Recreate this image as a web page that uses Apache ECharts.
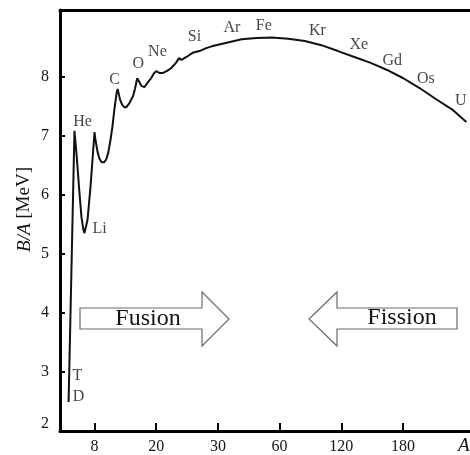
<!DOCTYPE html>
<html>
<head>
<meta charset="utf-8">
<script src="https://cdn.jsdelivr.net/npm/echarts@6/dist/echarts.min.js"></script>
<style>
  html, body { margin: 0; padding: 0; background: #fff; }
  #chart { width: 470px; height: 455px; }
</style>
</head>
<body>
<div id="chart"></div>
<script>
// Binding energy per nucleon vs mass number, on a broken (piecewise) A scale.

// Curve: mass number A and B/A in MeV.
const massA = [2.0, 4.0, 4.4, 5.0, 5.4, 5.8, 6.0, 6.2, 6.6, 7.2, 7.6, 8.0,
  8.2, 8.6, 9.0, 9.4, 9.9, 10.3, 10.7, 11.1, 11.5, 11.9, 12.3, 12.5,
  13.0, 13.4, 13.8, 14.2, 14.8, 15.5, 15.9, 16.3, 16.7, 17.1, 17.7, 18.3,
  19.0, 19.6, 20.0, 20.5, 21.1, 21.7, 22.4, 23.2, 23.7, 24.1, 24.9, 25.9,
  27.0, 28.1, 29.0, 35.3, 41.6, 48.9, 56.1, 68.4, 84.5, 100.6, 116.8,
  132.7, 148.6, 164.5, 180.3, 196.5, 212.6, 228.7, 241.6];
const bindE = [2.49, 7.08, 6.70, 6.03, 5.62, 5.40, 5.35, 5.37, 5.57, 6.13, 6.59, 7.06,
  6.92, 6.72, 6.60, 6.55, 6.55, 6.60, 6.72, 6.92, 7.16, 7.47, 7.72, 7.79,
  7.60, 7.52, 7.48, 7.48, 7.55, 7.67, 7.80, 7.97, 7.91, 7.84, 7.82, 7.89,
  7.97, 8.06, 8.09, 8.06, 8.06, 8.09, 8.14, 8.23, 8.31, 8.28, 8.33, 8.40,
  8.43, 8.48, 8.51, 8.58, 8.63, 8.65, 8.66, 8.64, 8.60, 8.53, 8.43,
  8.33, 8.23, 8.11, 7.97, 7.80, 7.61, 7.43, 7.23];

// Element labels, anchored in data space (A, B/A).
const elemNames = ["He", "Li", "C", "O", "Ne", "Si", "Ar", "Fe", "Kr", "Xe", "Gd", "Os", "U", "T", "D"];
const elemA = [5.6, 9.0, 11.9, 16.5, 20.2, 26.2, 36.8, 52.3, 96.8, 137.1, 169.5, 202.3, 236.1, 4.6, 4.8];
const elemBA = [7.23, 5.43, 7.94, 8.21, 8.41, 8.67, 8.82, 8.85, 8.77, 8.53, 8.26, 7.96, 7.58, 2.93, 2.58];

// Axis ticks.
const tickA = [8, 20, 30, 60, 120, 180];
const tickLabels = ["8", "20", "30", "60", "120", "180"];
const yTicks = [2, 3, 4, 5, 6, 7, 8];

// Broken A scale: knots in A and their place on the axis (one unit per tick).
const scaleA = [2, 4, 8, 20, 30, 60, 120, 180, 240];
const scaleU = [0.58, 0.675, 1, 2, 3, 4, 5, 6, 7];

function toU(a) {
  let i = 0;
  while (i < scaleA.length - 2 && a > scaleA[i + 1]) i++;
  const t = (a - scaleA[i]) / (scaleA[i + 1] - scaleA[i]);
  return scaleU[i] + t * (scaleU[i + 1] - scaleU[i]);
}

const SERIF = "'Liberation Serif', 'DejaVu Serif', serif";
const INK = "#141414";
const uMin = 0.4408, uMax = 7.086;

const curve = massA.map((a, i) => [toU(a), bindE[i]]);
const labels = elemNames.map((n, i) => ({ name: n, value: [toU(elemA[i]), elemBA[i]] }));

const chart = echarts.init(document.getElementById("chart"), null, { renderer: "canvas" });

const arrowStyle = { fill: "#fff", stroke: "#6a6a6a", lineWidth: 1.2 };
const arrowText = { fill: INK, font: "24px " + SERIF, textAlign: "center", textVerticalAlign: "middle" };

chart.setOption({
  animation: false,
  backgroundColor: "#fff",
  grid: { left: 60, right: 0, top: 10, bottom: 24, containLabel: false, outerBoundsMode: "none" },
  xAxis: [{
    type: "value", min: uMin, max: uMax, position: "bottom",
    name: "A", nameLocation: "end", nameGap: -12,
    nameTextStyle: {
      fontFamily: SERIF, fontSize: 19, fontStyle: "italic", color: INK,
      verticalAlign: "top", lineHeight: 30,
    },
    axisLine: { onZero: false, lineStyle: { color: "#000", width: 3 } },
    axisTick: { inside: true, length: 8, customValues: tickA.map(toU), lineStyle: { color: "#000", width: 2 } },
    axisLabel: {
      customValues: tickA.map(toU), margin: 8,
      fontFamily: SERIF, fontSize: 16, color: INK,
      formatter: v => tickLabels[tickA.findIndex(a => Math.abs(toU(a) - v) < 1e-6)] || "",
    },
    splitLine: { show: false },
  }, {
    type: "value", min: uMin, max: uMax, position: "top",
    axisLine: { onZero: false, lineStyle: { color: "#000", width: 3 } },
    axisTick: { show: false }, axisLabel: { show: false }, splitLine: { show: false },
  }],
  yAxis: {
    type: "value", min: 2, max: 9.125, interval: 1,
    name: "{i|B/A} [MeV]", nameLocation: "middle", nameRotate: 90, nameGap: 26,
    nameMoveOverlap: false,
    nameTextStyle: {
      fontFamily: SERIF, fontSize: 19, color: INK, padding: [0, 0, 0, 22],
      rich: { i: { fontFamily: SERIF, fontSize: 19, fontStyle: "italic", color: INK } },
    },
    axisLine: { onZero: false, lineStyle: { color: "#000", width: 3 } },
    axisTick: { inside: true, length: 5, customValues: yTicks, lineStyle: { color: "#000", width: 2 } },
    axisLabel: {
      customValues: yTicks, margin: 11, fontFamily: SERIF, fontSize: 16, color: INK,
      formatter: v => (v === 2 ? "{lo|2}" : String(v)),
      rich: { lo: { fontFamily: SERIF, fontSize: 16, color: INK, padding: [0, 0, 14, 0] } },
    },
    splitLine: { show: false },
  },
  series: [{
    type: "line", data: curve, showSymbol: false, smooth: false,
    lineStyle: { color: "#111", width: 2 }, silent: true, z: 3,
  }, {
    type: "scatter", data: labels, symbolSize: 1, silent: true,
    itemStyle: { color: "rgba(0,0,0,0)" },
    label: {
      show: true, position: "inside", formatter: "{b}",
      fontFamily: SERIF, fontSize: 16, color: INK,
    },
  }],
  graphic: [
    { type: "polygon", shape: { points: [[80, 308], [202, 308], [202, 292], [229, 319], [202, 346], [202, 329], [80, 329]] }, style: arrowStyle },
    { type: "polygon", shape: { points: [[457, 308], [337, 308], [337, 292], [309, 319], [337, 346], [337, 329], [457, 329]] }, style: arrowStyle },
    { type: "text", x: 148, y: 319, style: Object.assign({ text: "Fusion" }, arrowText) },
    { type: "text", x: 402, y: 318, style: Object.assign({ text: "Fission" }, arrowText) },
  ],
});
</script>
</body>
</html>
